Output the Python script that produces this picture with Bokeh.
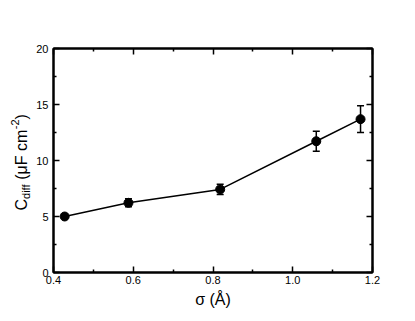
import math
from bokeh.plotting import figure
from bokeh.layouts import row
from bokeh.models import (ColumnDataSource, Whisker, TeeHead, LinearAxis, FixedTicker,
                          PrintfTickFormatter, Range1d)
from bokeh.core.properties import value
from bokeh.embed import file_html
from bokeh.resources import INLINE

sigma = [0.428, 0.588, 0.818, 1.059, 1.17]
cdiff = [5.0, 6.22, 7.42, 11.72, 13.69]
err = [0.12, 0.36, 0.45, 0.9, 1.19]

x_label = "σ (Å)"
y_label_parts = ["C", "diff", "(μF cm", "-2", ")"]
x_major = [0.4, 0.6, 0.8, 1.0, 1.2]
x_minor = [0.5, 0.7, 0.9, 1.1]
y_major = [0, 5, 10, 15, 20]
y_minor = [2.5, 7.5, 12.5, 17.5]

FONT = "Liberation Sans"
H = 313
TOP, BOTTOM = 48, 41
LW = 33           # width of the narrow panel holding the y-axis title
MAIN_W = 404 - LW

src = ColumnDataSource(dict(x=sigma, y=cdiff,
                            lo=[c - e for c, e in zip(cdiff, err)],
                            hi=[c + e for c, e in zip(cdiff, err)]))

p = figure(width=MAIN_W, height=H, output_backend="svg", toolbar_location=None, title=None,
           x_range=Range1d(0.4, 1.2), y_range=Range1d(0, 20),
           x_axis_type=None, y_axis_type=None,
           min_border_left=52 - LW, min_border_right=32, min_border_top=TOP, min_border_bottom=BOTTOM)
p.background_fill_color = "white"
p.border_fill_color = "white"
p.outline_line_color = "black"
p.outline_line_width = 2
p.xgrid.visible = False
p.ygrid.visible = False


def style_axis(ax, show_labels):
    ax.axis_line_width = 2
    ax.axis_line_color = "black"
    ax.major_tick_in = 6
    ax.major_tick_out = 0
    ax.minor_tick_in = 3
    ax.minor_tick_out = 0
    ax.major_tick_line_width = 1.5
    ax.minor_tick_line_width = 1.5
    ax.major_label_text_font = FONT
    ax.major_label_text_font_size = "11px"
    ax.major_label_text_color = "black"
    if not show_labels:
        ax.major_label_text_font_size = "0px"
        ax.major_label_text_color = None


xb = LinearAxis(ticker=FixedTicker(ticks=x_major, minor_ticks=x_minor),
                formatter=PrintfTickFormatter(format="%.1f"))
style_axis(xb, True)
xb.major_label_standoff = 3
xb.axis_label = x_label
xb.axis_label_text_font = FONT
xb.axis_label_text_font_size = "16px"
xb.axis_label_text_font_style = "normal"
xb.axis_label_text_color = "black"
xb.axis_label_standoff = 4
p.add_layout(xb, "below")

xt = LinearAxis(ticker=FixedTicker(ticks=x_major, minor_ticks=x_minor))
style_axis(xt, False)
p.add_layout(xt, "above")

yl = LinearAxis(ticker=FixedTicker(ticks=y_major, minor_ticks=y_minor),
                formatter=PrintfTickFormatter(format="%d"))
style_axis(yl, True)
yl.major_label_standoff = 5
p.add_layout(yl, "left")

yr = LinearAxis(ticker=FixedTicker(ticks=y_major, minor_ticks=y_minor))
style_axis(yr, False)
p.add_layout(yr, "right")

p.line("x", "y", source=src, line_color="black", line_width=1.5)
p.add_layout(Whisker(source=src, base="x", lower="lo", upper="hi", line_color="black", line_width=1.5,
                     lower_head=TeeHead(size=7, line_color="black", line_width=1.5),
                     upper_head=TeeHead(size=7, line_color="black", line_width=1.5)))
p.scatter("x", "y", source=src, size=9, fill_color="black", line_color="black")

# ---- narrow left panel with the rotated, composed y-axis title ----
# shares the main y range and has identical top/bottom borders, so its frame lines up
q = figure(width=LW, height=H, output_backend="svg", toolbar_location=None, title=None,
           x_range=Range1d(0, LW), y_range=p.y_range,
           x_axis_type=None, y_axis_type=None,
           min_border_left=0, min_border_right=0, min_border_top=TOP, min_border_bottom=BOTTOM)
q.outline_line_color = None
q.xgrid.visible = False
q.ygrid.visible = False
q.background_fill_color = "white"
q.border_fill_color = "white"

frame_h = H - TOP - BOTTOM
px_per_unit = frame_h / 20.0

# Arial/Liberation Sans advance widths (em units)
adv = {"C": .722, "d": .556, "i": .222, "f": .278, " ": .278, "(": .333, "μ": .576,
       "F": .611, "c": .5, "m": .833, "-": .333, "2": .556, ")": .333}
ASC = 0.905
sizes = [16, 11, 16, 11, 16]
baselines = [27, 29.5, 27, 20, 27]   # screen x of each piece's baseline
gaps = [0, 0, 4.4, 0.5, 0]           # extra space (px) before each piece
pos = 272 - 210                      # title starts 62 px above the frame bottom
xs, ys, fs = [], [], []
for txt, sz, bx, gp in zip(y_label_parts, sizes, baselines, gaps):
    pos += gp
    xs.append(bx - ASC * sz)         # anchor = top of the em box
    ys.append(pos / px_per_unit)
    fs.append(f"{sz}px")
    pos += sum(adv.get(ch, .55) for ch in txt) * sz

tsrc = ColumnDataSource(dict(x=xs, y=ys, t=y_label_parts, fs=fs))
q.text("x", "y", text="t", source=tsrc, angle=math.pi / 2, text_font=value(FONT),
       text_font_size="fs", text_color="black", text_align="left", text_baseline="top")

layout = row(q, p, spacing=0)
open("out.html", "w").write(file_html(layout, INLINE))
